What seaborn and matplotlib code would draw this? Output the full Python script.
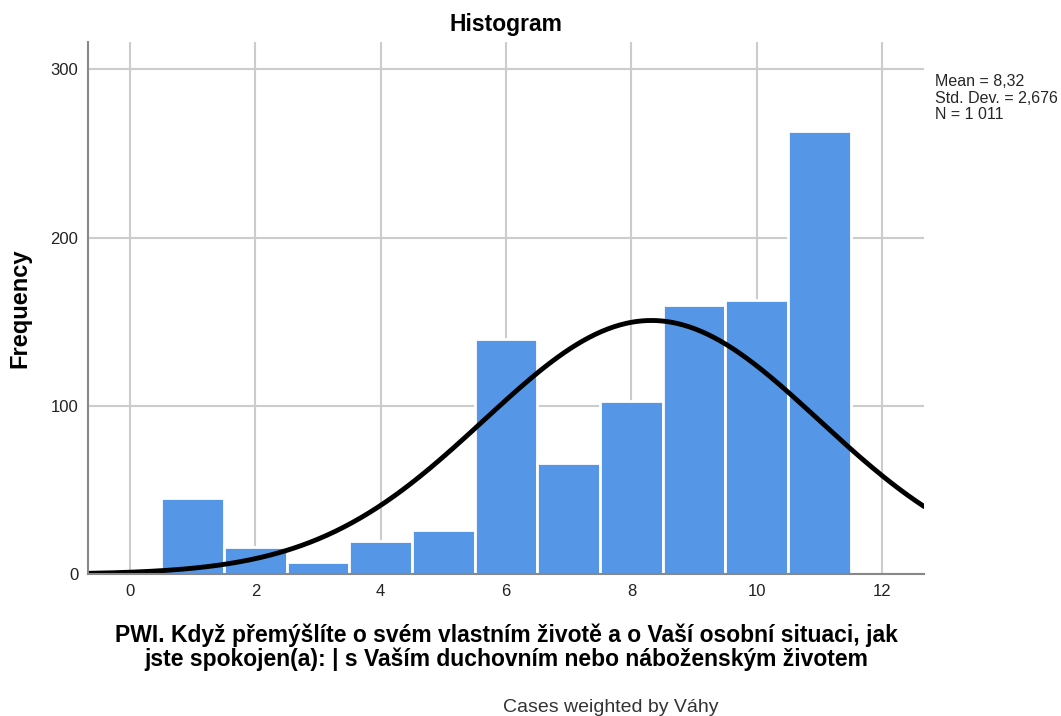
import numpy as np
import pandas as pd
import seaborn as sns
import matplotlib.pyplot as plt

sns.set_theme(style="whitegrid")
plt.rcParams['font.family'] = ['Liberation Sans', 'DejaVu Sans']

# data
scores = [1, 2, 3, 4, 5, 6, 7, 8, 9, 10, 11]
counts = [45, 16, 7, 20, 26, 140, 66, 103, 160, 163, 263]
mean = 8.32
std_dev = 2.676
n_total = 1011

df = pd.DataFrame({"score": scores, "count": counts})

fig = plt.figure(figsize=(10.61, 7.16), dpi=100)
ax = fig.add_axes([0.083, 0.198, 0.788, 0.743])

sns.histplot(data=df, x="score", weights="count", discrete=True,
             color="#5596e6", alpha=1, edgecolor="white", linewidth=2, ax=ax)

# normal curve, bin width 1
xs = np.linspace(-0.67, 12.67, 400)
ys = n_total / (std_dev * np.sqrt(2 * np.pi)) * np.exp(-0.5 * ((xs - mean) / std_dev) ** 2)
sns.lineplot(x=xs, y=ys, color="black", linewidth=3.5, ax=ax)

ax.set_xlim(-0.67, 12.67)
ax.set_ylim(0, 316)
ax.set_xticks([0, 2, 4, 6, 8, 10, 12])
ax.set_yticks([0, 100, 200, 300])
ax.grid(True, color="#cccccc", linewidth=1.5)
ax.set_axisbelow(True)
for s in ["top", "right"]:
    ax.spines[s].set_visible(False)
for s in ["left", "bottom"]:
    ax.spines[s].set_color("#888888")
    ax.spines[s].set_linewidth(1.5)
ax.tick_params(axis="both", labelsize=12, colors="#222222", length=0, pad=7)

ax.set_title("Histogram", fontsize=16.5, fontweight="bold", pad=8, color="black")
ax.set_ylabel("Frequency", fontsize=17, fontweight="bold", labelpad=14, color="black")
ax.set_xlabel("PWI. Když přemýšlíte o svém vlastním životě a o Vaší osobní situaci, jak\n"
              "jste spokojen(a): | s Vaším duchovním nebo náboženským životem",
              fontsize=16.5, fontweight="bold", labelpad=18, linespacing=1.0, color="black")

stats = (f"Mean = {mean:.2f}\n".replace(".", ",")
         + f"Std. Dev. = {std_dev:.3f}".replace("2.", "2,") + "\n"
         + "N = 1 011")
fig.text(0.881, 0.897, stats, fontsize=11.5, va="top", ha="left", linespacing=1.15)
fig.text(0.576, 0.005, "Cases weighted by Váhy", fontsize=14, ha="center", color="#333333")

fig.savefig("out.png", dpi=100)
